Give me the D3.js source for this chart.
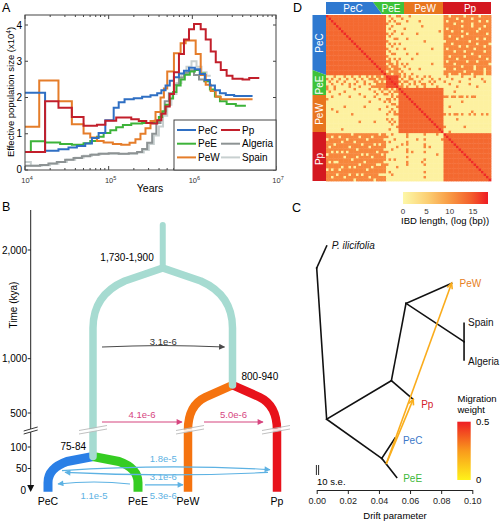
<!DOCTYPE html>
<html><head><meta charset="utf-8">
<script src="https://cdn.jsdelivr.net/npm/d3@7/dist/d3.min.js"></script>
<style>body{margin:0;background:#fff} svg{display:block;font-family:"Liberation Sans",Arial,sans-serif}</style>
</head><body>
<svg id="c" width="500" height="521"></svg>
<script>
// ================= DATA =================
// Panel A: PSMC steps, [log10(years), Ne (x10^4)]
const psmcPeC = [[4.00,2.13],[4.24,0.53],[4.40,0.57],[4.52,0.62],[4.62,0.66],[4.72,0.73],[4.80,0.88],[4.88,1.02],[4.96,1.37],[5.06,1.72],[5.12,1.87],[5.19,1.95],[5.30,1.98],[5.40,2.02],[5.50,2.06],[5.58,2.12],[5.63,2.2],[5.68,2.33],[5.73,2.46],[5.78,2.56],[5.84,2.66],[5.90,2.74],[5.96,2.82],[6.03,2.78],[6.09,2.65],[6.15,2.48],[6.21,2.33],[6.27,2.2],[6.33,2.12],[6.40,2.07],[6.50,2.04],[6.72,2.04]];
const psmcPeE = [[4.00,0.50],[4.07,0.79],[4.24,0.76],[4.42,0.72],[4.56,0.70],[4.70,0.74],[4.78,0.80],[4.86,0.92],[4.94,1.02],[5.02,1.10],[5.09,1.18],[5.17,1.24],[5.27,1.28],[5.40,1.30],[5.50,1.30],[5.55,1.36],[5.60,1.46],[5.64,1.62],[5.68,1.80],[5.73,1.97],[5.77,2.15],[5.81,2.33],[5.86,2.5],[5.91,2.63],[5.97,2.72],[6.03,2.76],[6.09,2.66],[6.15,2.45],[6.21,2.22],[6.27,2.03],[6.33,1.9],[6.41,1.82],[6.52,1.77],[6.64,1.77]];
const psmcPeW = [[4.00,1.19],[4.17,2.47],[4.40,1.90],[4.56,1.26],[4.70,1.01],[4.78,0.90],[4.86,0.80],[4.94,0.76],[5.05,0.72],[5.15,0.70],[5.25,0.75],[5.32,0.85],[5.38,1.0],[5.44,1.15],[5.50,1.35],[5.56,1.6],[5.62,2.0],[5.66,2.25],[5.70,2.72],[5.78,3.22],[5.86,3.5],[5.92,3.57],[6.04,3.2],[6.10,2.62],[6.16,2.35],[6.22,2.18],[6.28,2.02],[6.34,1.95],[6.45,1.95],[6.72,1.95]];
const psmcPp = [[4.00,0.50],[4.24,1.90],[4.40,1.72],[4.56,1.46],[4.70,1.22],[4.86,1.25],[4.96,1.36],[5.09,1.45],[5.27,1.40],[5.36,1.35],[5.45,1.30],[5.52,1.28],[5.58,1.37],[5.63,1.55],[5.68,1.75],[5.73,2.1],[5.78,2.7],[5.84,3.2],[5.90,3.6],[5.96,3.88],[6.02,4.03],[6.10,3.88],[6.16,3.6],[6.22,3.27],[6.28,2.97],[6.34,2.76],[6.41,2.6],[6.48,2.52],[6.60,2.5],[6.68,2.54],[6.80,2.54]];
const psmcAlgeria = [[4.00,0.12],[4.18,0.14],[4.28,0.18],[4.38,0.22],[4.48,0.28],[4.58,0.33],[4.68,0.38],[4.78,0.42],[4.88,0.45],[5.00,0.46],[5.12,0.45],[5.24,0.46],[5.34,0.50],[5.40,0.58],[5.46,0.75],[5.52,1.0],[5.57,1.3],[5.62,1.6],[5.67,1.9],[5.72,2.12],[5.78,2.35],[5.84,2.55],[5.90,2.68],[5.96,2.75],[6.02,2.62],[6.08,2.5],[6.14,2.45],[6.20,2.45]];
const psmcSpain = [[4.00,0.22],[4.07,0.12],[4.20,0.13],[4.30,0.17],[4.40,0.22],[4.50,0.28],[4.60,0.34],[4.70,0.39],[4.80,0.43],[4.90,0.45],[5.00,0.45],[5.12,0.44],[5.24,0.45],[5.34,0.48],[5.42,0.55],[5.48,0.72],[5.54,0.95],[5.60,1.2],[5.65,1.5],[5.70,1.8],[5.75,2.1],[5.81,2.4],[5.87,2.65],[5.93,2.85],[5.99,3.0],[6.05,2.85],[6.11,2.7],[6.17,2.6],[6.22,2.6]];
const yTicksA = [0,1,2,3,4];
const xDecadesA = [4,5,6,7];

// Panel B: demographic model
const popsB = ["PeC","PeE","PeW","Pp"];
const splitLabels = ["1,730-1,900","800-940","75-84"];
const splitTimes = [1834, 757, 78];   // drawn node times (kya)
const trunkTop = 2230;
const timeTicks = [2000,1000,500,100,50,0];
const timeTickLabels = ["2,000","1,000","500","100","50","0"];
const migB = [
  {rate:"3.1e-6", from:"ancL", to:"ancR", t:1107, kind:"anc"},
  {rate:"4.1e-6", from:"ancL", to:"PeW", t:417, kind:"pink"},
  {rate:"5.0e-6", from:"PeW", to:"Pp", t:417, kind:"pink"},
  {rate:"1.8e-5", from:"PeC", to:"Pp", t:45, kind:"blue"},
  {rate:"3.1e-6", from:"Pp", to:"PeC", t:41, kind:"blue"},
  {rate:"1.1e-5", from:"PeE", to:"PeC", t:14, kind:"blue"},
  {rate:"5.3e-6", from:"PeE", to:"PeW", t:12, kind:"blue"}
];

// Panel C: TreeMix tree (drift values) and migration edges
const treeNodes = ["root","ilic","n1","n2","n3","n4","n5","PeW","Spain","Algeria","Pp","PeC","PeE"];
const treeDrift = [0.0, 0.0064, 0.0064, 0.048, 0.0418, 0.0574, 0.0947, 0.0867, 0.0947, 0.0947, 0.062, 0.0503, 0.0514];
const treeOrder = [9.5, 0, 74.9, 58.2, 91.8, 24.8, 41.4, 16.1, 33.4, 49.3, 66.3, 83.1, 100];
const treeEdges = [["root","ilic"],["root","n1"],["n1","n2"],["n1","n3"],["n2","n4"],["n2","Pp"],["n4","PeW"],["n4","n5"],["n5","Spain"],["n5","Algeria"],["n3","PeC"],["n3","PeE"]];
const treeMig = [{from:["n3","PeE",0.3], to:"PeW", w:0.2},{from:["n3","PeE",0.3], to:"Pp", w:0.19}];
const driftTicks = [0,0.02,0.04,0.06,0.08,0.10];

// Panel D: IBD matrix (upper-triangle codes)
const grpNames = ["PeC","PeE","PeW","Pp"];
const grpSizes = [24,5,18,19];
const ibdLevels = {".":0.8, "o":11.5, "r":13.8, "R":15.8, "d":17.5};
const ibdTicks = [0,5,10,15];
const cPeE = [".o..o","..o..",".o.o.","o...o","..o..",".o...","...o.","o.o..",".o...","...oo","o....",".o.o.","..o..","o...o",".o...","..oo.","o....",".o.o.","oo..o",".oo.o","o.ooo","oo.oo",".oooo","oo.oo"];
const cPeW = ["o...o.............",".o................","...o....o.........","o.................",".........o........","..o...............","................o.",".o.....o..........","..................","...o..............","..........o.......","o.................","..................","..o..........o....","..................","...o...o..........","..................","o....o............","..................",".o.o.........o....","..o...............","o...o...o.........",".o................","o.o..o............"];
const cPp = ["oo.ooooo.ooooo.oooo","ooooo.ooooo.ooooooo","o.ooooo.oooooo.oo.o","oooo.oooooo.ooooooo","ooooooo.ooo.oooo.oo","o.oooooooooooo.oooo","ooo.ooo.ooooo.ooooo","ooooooooo.ooooooo.o","oo.oooo.ooooooooooo","ooooo.ooooooo.oo.oo",".ooooooooo.oooooooo","ooo.ooooooooo.oooo.","oooooo.oo.oooooo.oo","o.oooooooooo.oooooo","oooo.ooo.ooooooo.oo","ooooooooooo.ooooooo","oo.ooooo.ooooo.oooo","ooooo.ooooooooooo.o","o.ooooooo.ooo.ooooo","oooo.ooooooooooooo.","ooooooo.oooo.oooooo",".ooo.ooooooo.ooo.oo","oooooooo.ooooooo.oo","oo.ooo.oooo.oooo.oo"];
const ePeW = ["o.o.o..o..o.o.....",".o..oo...o...o..o.","o.oo..o.o...o.o...",".o..o.o..oo..o....","oo.o...o..o....o.."];
const ePp = [".o.....o....o......","...o......o....o...","o.....o.........o..","..o.......o........",".....o.......o....."];
const wPp = ["...................","....o..............","...................","oo.oo.oo.o.oo......","...................",".......o...........","...................","..o................","...................","...........o.......","o.o.oo.o..o.o..o.o.","...................",".....o.............","...................","...................","o.......o..........","...................","..o................"];

// ================= DRAW =================
const svg = d3.select("#c");
const popCol = {PeC:"#2f6fc3", PeE:"#3db33a", PeW:"#e57d2a", Pp:"#c21f2b", Algeria:"#8d9394", Spain:"#c8d0d0"};

// ---------- Panel A ----------
const xA = d3.scaleLog().domain([1e4,1e7]).range([25,276]);
const yA = d3.scaleLinear().domain([0,4]).range([170,25]);
const gA = svg.append("g");
svg.append("text").attr("x",2).attr("y",12).attr("font-size",12.5).text("A");
const lineA = d3.line().x(d=>xA(Math.pow(10,d[0]))).y(d=>yA(d[1])).curve(d3.curveStepAfter);
[["Spain",psmcSpain],["Algeria",psmcAlgeria],["PeE",psmcPeE],["PeW",psmcPeW],["PeC",psmcPeC],["Pp",psmcPp]].forEach(([n,d])=>{
  gA.append("path").attr("d",lineA(d)).attr("fill","none").attr("stroke",popCol[n]).attr("stroke-width",2);
});
// frame
gA.append("rect").attr("x",25).attr("y",15).attr("width",251).attr("height",155).attr("fill","none").attr("stroke","#444").attr("stroke-width",1);
// x ticks
xDecadesA.forEach(dec=>{
  for(let k=1;k<=9;k++){
    if(dec===7 && k>1) break;
    const v = k*Math.pow(10,dec), x = xA(v), L = k===1?4:2;
    gA.append("line").attr("x1",x).attr("x2",x).attr("y1",170).attr("y2",170-L).attr("stroke","#444");
    gA.append("line").attr("x1",x).attr("x2",x).attr("y1",15).attr("y2",15+L).attr("stroke","#444");
  }
  const t = gA.append("text").attr("x",xA(Math.pow(10,dec))+2).attr("y",183).attr("text-anchor","middle").attr("font-size",7.5).attr("fill","#333");
  t.append("tspan").text("10");
  t.append("tspan").attr("dy",-3).attr("font-size",5.5).text(dec);
});
yTicksA.forEach(v=>{
  gA.append("line").attr("x1",25).attr("x2",28).attr("y1",yA(v)).attr("y2",yA(v)).attr("stroke","#444");
  gA.append("line").attr("x1",276).attr("x2",273).attr("y1",yA(v)).attr("y2",yA(v)).attr("stroke","#444");
  gA.append("text").attr("x",22).attr("y",yA(v)+(v===0?2.5:3.5)).attr("text-anchor","end").attr("font-size",10).text(v);
});
gA.append("text").attr("x",150).attr("y",192).attr("text-anchor","middle").attr("font-size",10.5).text("Years");
const yt = gA.append("text").attr("transform","translate(14,92) rotate(-90)").attr("text-anchor","middle").attr("font-size",9.5);
yt.append("tspan").text("Effective population size (x10");
yt.append("tspan").attr("dy",-3).attr("font-size",6.5).text("4");
yt.append("tspan").attr("dy",3).text(")");
// legend
gA.append("rect").attr("x",174).attr("y",120).attr("width",102).attr("height",50).attr("fill","#fff").attr("stroke","#444");
const legA = [["PeC",0,0],["PeE",0,1],["PeW",0,2],["Pp",1,0],["Algeria",1,1],["Spain",1,2]];
legA.forEach(([n,c,r])=>{
  const x0 = c? 221:177, y0 = 130 + r*13.7;
  gA.append("line").attr("x1",x0).attr("x2",x0+19).attr("y1",y0).attr("y2",y0).attr("stroke",popCol[n]).attr("stroke-width",2);
  gA.append("text").attr("x",x0+21).attr("y",y0+3.6).attr("font-size",10).text(n);
});

// ---------- Panel D ----------
const gD = svg.append("g");
svg.append("text").attr("x",293).attr("y",12).attr("font-size",12.5).text("D");
const N = d3.sum(grpSizes);
const starts = grpSizes.map((s,i)=>d3.sum(grpSizes.slice(0,i)));
const groupOf = i => { for(let g=grpSizes.length-1; g>=0; g--) if(i>=starts[g]) return g; };
const offTables = {"0-1":[cPeE,5],"0-2":[cPeW,18],"0-3":[cPp,19],"1-2":[ePeW,18],"1-3":[ePp,19],"2-3":[wPp,19]};
function codeAt(i,j){
  if(i>j){const t=i;i=j;j=t;}
  if(i===j) return "d";
  const gi=groupOf(i), gj=groupOf(j);
  if(gi===gj) return gi===1?"R":"r";
  const [tab,len] = offTables[gi+"-"+gj];
  const row = (tab[i-starts[gi]]||"").padEnd(len,".");
  return row.charAt(j-starts[gj]) || ".";
}
const xD = d3.scaleBand().domain(d3.range(N)).range([326,491]);
const yD = d3.scaleBand().domain(d3.range(N)).range([15,181]);
const ibdColor = d3.scaleLinear().domain([0,5,10,15,18.2]).range(["#fdf7a8","#fbd276","#f89a43","#f3592a","#ee1b24"]);
const cells = [];
for(let i=0;i<N;i++) for(let j=0;j<N;j++) cells.push({i,j,v:ibdLevels[codeAt(i,j)]});
gD.selectAll("rect.cell").data(cells).join("rect").attr("class","cell")
  .attr("x",d=>xD(d.j)).attr("y",d=>yD(d.i)).attr("width",xD.bandwidth()+0.4).attr("height",yD.bandwidth()+0.4)
  .attr("fill",d=>ibdColor(d.v));
// group colour bars
const barCol = {PeC:"#2f79d0", PeE:"#3ec23a", PeW:"#e8751e", Pp:"#d41820"};
const topPoly = [[[326,2],[373,2],[382,14],[326,14]],[[373,2],[404,2],[404,14],[382,14]],[[404,2],[443,2],[443,14],[404,14]],[[443,2],[491,2],[491,14],[443,14]]];
const leftPoly = [[[312.5,15],[326,15],[326,75],[312.5,70]],[[312.5,70],[326,75],[326,95],[312.5,95]],[[312.5,95],[326,95],[326,132],[312.5,132]],[[312.5,132],[326,132],[326,181],[312.5,181]]];
const topLab = [353,391,425,470], leftLab = [43,85,114,159];
grpNames.forEach((g,k)=>{
  gD.append("polygon").attr("points",topPoly[k].join(" ")).attr("fill",barCol[g]);
  gD.append("polygon").attr("points",leftPoly[k].join(" ")).attr("fill",barCol[g]);
  gD.append("text").attr("x",topLab[k]).attr("y",11.5).attr("text-anchor","middle").attr("font-size",10).attr("fill","#fff").text(g);
  gD.append("text").attr("transform",`translate(323,${leftLab[k]}) rotate(-90)`).attr("text-anchor","middle").attr("font-size",10).attr("fill","#fff").text(g);
});
// colour bar
const cb = d3.scaleLinear().domain([0,18.2]).range([403,488]);
const defs = svg.append("defs");
const gradD = defs.append("linearGradient").attr("id","gD");
d3.range(0,1.0001,0.1).forEach(f=>gradD.append("stop").attr("offset",f).attr("stop-color",ibdColor(f*18.2)));
gD.append("rect").attr("x",cb(0)).attr("y",192).attr("width",cb(18.2)-cb(0)).attr("height",12).attr("fill","url(#gD)");
ibdTicks.forEach(v=>gD.append("text").attr("x",cb(v)).attr("y",213.5).attr("text-anchor","middle").attr("font-size",8).attr("fill","#333").text(v));
gD.append("text").attr("x",401).attr("y",224).attr("font-size",9.5).text("IBD length, (log (bp))");

// ---------- Panel B ----------
const gB = svg.append("g");
svg.append("text").attr("x",2).attr("y",211).attr("font-size",12.5).text("B");
const yLow = d3.scaleLinear().domain([0,100]).range([490,447]);
const yHigh = d3.scaleLinear().domain([500,2000]).range([413,250]);
const tY = t => t<=150 ? yLow(t) : yHigh(t);
const xB = d3.scaleOrdinal().domain(popsB).range([48,138,188,277]);
const xL = (xB("PeC")+xB("PeE"))/2, xR = (xB("PeW")+xB("Pp"))/2, xRoot = (xL+xR)/2;
const yRootN = tY(splitTimes[0]), yWN = tY(splitTimes[1]), yCN = tY(splitTimes[2]), yBot = tY(-4);
function curveBranch(x0,y0,x1,dx,d1,d2,yEnd){
  const p = d3.path(); p.moveTo(x0,y0); p.lineTo(x0+dx,y0+d1); p.quadraticCurveTo(x1,y0+d2*0.45,x1,y0+d2); p.lineTo(x1,yEnd); return p.toString();
}
const brW = 9;
gB.append("path").attr("d",curveBranch(xL,yCN,xB("PeC"),-26,5,26,yBot)).attr("fill","none").attr("stroke","#2a7fe6").attr("stroke-width",brW).attr("stroke-linejoin","round");
gB.append("path").attr("d",curveBranch(xL,yCN,xB("PeE"),26,5,26,yBot)).attr("fill","none").attr("stroke","#35cc22").attr("stroke-width",brW).attr("stroke-linejoin","round");
gB.append("path").attr("d",curveBranch(xR,yWN,xB("PeW"),-27,12,45,yBot)).attr("fill","none").attr("stroke","#f5730f").attr("stroke-width",8.5).attr("stroke-linejoin","round");
gB.append("path").attr("d",curveBranch(xR,yWN,xB("Pp"),27,12,45,yBot)).attr("fill","none").attr("stroke","#e8121b").attr("stroke-width",8.5).attr("stroke-linejoin","round");
const teal = "#a6dbd1";
gB.append("path").attr("d",curveBranch(xRoot,yRootN,xL,-38,13,60,yCN)).attr("fill","none").attr("stroke",teal).attr("stroke-width",7.5).attr("stroke-linecap","round").attr("stroke-linejoin","round");
gB.append("path").attr("d",curveBranch(xRoot,yRootN,xR,38,13,60,yWN)).attr("fill","none").attr("stroke",teal).attr("stroke-width",7.5).attr("stroke-linecap","round").attr("stroke-linejoin","round");
gB.append("line").attr("x1",xRoot).attr("x2",xRoot).attr("y1",tY(trunkTop)).attr("y2",yRootN).attr("stroke",teal).attr("stroke-width",6).attr("stroke-linecap","round");
gB.append("text").attr("x",xRoot-9).attr("y",yRootN-7).attr("text-anchor","end").attr("font-size",10).text(splitLabels[0]);
gB.append("text").attr("x",xR+9).attr("y",yWN-5).attr("font-size",10).text(splitLabels[1]);
gB.append("text").attr("x",xL-7).attr("y",yCN-6).attr("text-anchor","end").attr("font-size",10).text(splitLabels[2]);
const yBrk = 431;
[xL, xB("PeW")+2, xB("Pp")-1].forEach(x=>{
  gB.append("polygon").attr("points",`${x-14},${yBrk+3} ${x+14},${yBrk-2} ${x+14},${yBrk-5} ${x-14},${yBrk}`).attr("fill","#fff").attr("fill-opacity",0.85);
  [0,-3.5].forEach(o=>gB.append("line").attr("x1",x-14).attr("y1",yBrk+3+o).attr("x2",x+14).attr("y2",yBrk-2+o).attr("stroke","#b9b9b9").attr("stroke-width",0.9));
});
const xAx = 30.7;
gB.append("line").attr("x1",xAx).attr("x2",xAx).attr("y1",210).attr("y2",486).attr("stroke","#222").attr("stroke-width",1);
gB.append("path").attr("d",`M${xAx-3.5},${485} L${xAx+3.5},${485} L${xAx},${492} Z`).attr("fill","#111");
timeTicks.forEach((t,k)=>{
  const y = tY(t);
  if(t>0) gB.append("line").attr("x1",xAx-3).attr("x2",xAx).attr("y1",y).attr("y2",y).attr("stroke","#222");
  gB.append("text").attr("x",t===0?26:27).attr("y",y+3.5).attr("text-anchor","end").attr("font-size",10).text(timeTickLabels[k]);
});
gB.append("polygon").attr("points",`${xAx-7},${yBrk+3} ${xAx+7},${yBrk-1} ${xAx+7},${yBrk-4} ${xAx-7},${yBrk}`).attr("fill","#fff");
[0,-3].forEach(o=>gB.append("line").attr("x1",xAx-7).attr("y1",yBrk+3+o).attr("x2",xAx+7).attr("y2",yBrk-1+o).attr("stroke","#222").attr("stroke-width",0.9));
gB.append("text").attr("transform","translate(17,305) rotate(-90)").attr("text-anchor","middle").attr("font-size",10).text("Time  (kya)");
popsB.forEach(p=>gB.append("text").attr("x",xB(p)).attr("y",505).attr("text-anchor","middle").attr("font-size",10.5).text(p));
const migCol = {anc:"#4a4a4a", pink:"#d6457f", blue:"#5db2e3"};
["anc","pink","blue"].forEach(k=>{
  defs.append("marker").attr("id","m"+k).attr("viewBox","0 0 10 10").attr("refX",9).attr("refY",5)
    .attr("markerWidth",7).attr("markerHeight",6).attr("markerUnits","userSpaceOnUse").attr("orient","auto")
    .append("path").attr("d","M0,0 L10,5 L0,10 Z").attr("fill",migCol[k]);
});
const anchorX = n => n==="ancL"?xL : n==="ancR"?xR : xB(n);
const gapsB = [[9,8,-3],[9,6,0],[16,14,0],[14,7,-7],[9,17,5],[8,10,-4],[7,5,0]];
const labelDy = [-2,-4,-4,-9,8,15,14];
migB.forEach((m,k)=>{
  const xs = anchorX(m.from), xt = anchorX(m.to), s = Math.sign(xt-xs);
  const [g1,g2,bow] = gapsB[k];
  const y = tY(m.t);
  const x1 = xs + s*g1, x2 = xt - s*g2;
  gB.append("path").attr("d",`M${x1},${y} Q${(x1+x2)/2},${y+bow} ${x2},${y+ (k===3? -1 : 0)}`).attr("fill","none")
    .attr("stroke",migCol[m.kind]).attr("stroke-width",1.1).attr("marker-end",`url(#m${m.kind})`);
  const lx = (k===3||k===4||k===6) ? 163.3 : (x1+x2)/2;
  gB.append("text").attr("x",lx).attr("y",y+labelDy[k]).attr("text-anchor","middle").attr("font-size",9.5).attr("fill",m.kind==="anc"?"#333":migCol[m.kind]).text(m.rate);
});

// ---------- Panel C ----------
const gC = svg.append("g");
svg.append("text").attr("x",292).attr("y",212).attr("font-size",12.5).text("C");
const xC = d3.scaleLinear().domain([0,0.1]).range([316.7,472.3]);
const yC = d3.scaleLinear().domain([0,100]).range([246,477.3]);
const nodePos = {};
treeNodes.forEach((n,k)=>nodePos[n] = [xC(treeDrift[k]), yC(treeOrder[k])]);
treeEdges.forEach(([a,b])=>{
  gC.append("line").attr("x1",nodePos[a][0]).attr("y1",nodePos[a][1]).attr("x2",nodePos[b][0]).attr("y2",nodePos[b][1])
    .attr("stroke","#111").attr("stroke-width",1.6).attr("stroke-linecap","square");
});
const migColor = d3.scaleLinear().domain([0,0.25,0.5]).range(["#fff21a","#f99a1c","#ee1d23"]);
treeMig.forEach(m=>{
  const [a,b,f] = m.from;
  const x1 = nodePos[a][0]+(nodePos[b][0]-nodePos[a][0])*f, y1 = nodePos[a][1]+(nodePos[b][1]-nodePos[a][1])*f;
  const [x2,y2] = nodePos[m.to];
  const c = migColor(m.w);
  gC.append("line").attr("x1",x1).attr("y1",y1).attr("x2",x2).attr("y2",y2).attr("stroke",c).attr("stroke-width",1.6);
  const ang = Math.atan2(y2-y1,x2-x1), L=6, sp=0.45;
  gC.append("path").attr("d",`M${x2-L*Math.cos(ang-sp)},${y2-L*Math.sin(ang-sp)} L${x2},${y2} L${x2-L*Math.cos(ang+sp)},${y2-L*Math.sin(ang+sp)}`)
    .attr("fill","none").attr("stroke",c).attr("stroke-width",1.6);
});
const tipLab = [["ilic","P. ilicifolia","#111",5,3,true],["PeW","PeW","#e67e22",8,4,false],["Spain","Spain","#111",4,3,false],["Algeria","Algeria","#111",4,5,false],["Pp","Pp","#d4202a",8,9,false],["PeC","PeC","#3b78c8",8,6,false],["PeE","PeE","#3db83a",6.5,5,false]];
tipLab.forEach(([n,t,c,dx,dy,it])=>{
  const tx = gC.append("text").attr("x",nodePos[n][0]+dx).attr("y",nodePos[n][1]+dy).attr("font-size",10).attr("fill",c);
  if(it){ tx.append("tspan").attr("font-style","italic").text(t); }
  else tx.text(t);
});
[316.4,318.6].forEach(x=>gC.append("line").attr("x1",x).attr("x2",x).attr("y1",465).attr("y2",475).attr("stroke","#111").attr("stroke-width",0.9));
gC.append("text").attr("x",317).attr("y",485).attr("font-size",9.5).text("10 s.e.");
const axC = d3.axisBottom(xC).tickValues(driftTicks).tickFormat(d3.format(".2f")).tickSize(4).tickSizeOuter(0);
const gax = gC.append("g").attr("transform","translate(0,490)").call(axC);
gax.selectAll("text").attr("font-size",9).attr("font-family","Liberation Sans, Arial, sans-serif").attr("fill","#222").attr("dy","0.75em");
gax.select(".domain").attr("stroke","#222");
gax.selectAll(".tick line").attr("stroke","#222");
gC.append("text").attr("x",395).attr("y",518.5).attr("text-anchor","middle").attr("font-size",9.5).text("Drift parameter");
const gradC = defs.append("linearGradient").attr("id","gC").attr("x1",0).attr("y1",1).attr("x2",0).attr("y2",0);
[0,0.5,1].forEach(f=>gradC.append("stop").attr("offset",f).attr("stop-color",migColor(f*0.5)));
gC.append("rect").attr("x",457.3).attr("y",421.7).attr("width",13.4).attr("height",58.3).attr("fill","url(#gC)");
gC.append("text").attr("x",457.5).attr("y",401.5).attr("font-size",9.5).text("Migration");
gC.append("text").attr("x",457.5).attr("y",413).attr("font-size",9.5).text("weight");
gC.append("text").attr("x",476).attr("y",425).attr("font-size",9.5).text("0.5");
gC.append("text").attr("x",476).attr("y",483).attr("font-size",9.5).text("0");
</script>
</body></html>
